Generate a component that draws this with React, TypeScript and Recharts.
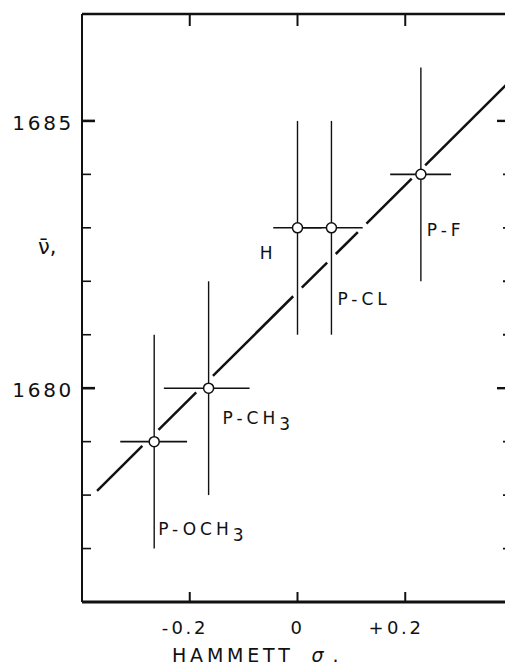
import React from 'react';
import { ComposedChart, Scatter, Line, XAxis, YAxis, ErrorBar } from 'recharts';

// ---- data ----
const substituents = ['P-OCH3', 'P-CH3', 'H', 'P-CL', 'P-F'];
const hammettSigma = [-0.266, -0.165, 0.0, 0.063, 0.229];
const wavenumber = [1679.0, 1680.0, 1683.0, 1683.0, 1684.0];
const wavenumberErr = [2, 2, 2, 2, 2];
const sigmaErrLow = [0.063, 0.083, 0.045, 0.058, 0.057];
const sigmaErrHigh = [0.061, 0.076, 0.045, 0.058, 0.056];

// fitted straight line  nu = intercept + slope * sigma
const fitSlope = 10.0;
const fitIntercept = 1681.8;
const fitSigmaRange = [-0.372, 0.39];

const xDomain = [-0.4, 0.4];
const yDomain = [1676, 1687];
const xTicks = [-0.2, 0, 0.2];
const xTickLabels = ['-0.2', '0', '+0.2'];
const yTicks = [1677, 1678, 1679, 1680, 1681, 1682, 1683, 1684, 1685];
const yLabeledTicks = [1680, 1685];

// ---- styles ----
const FONT = '"DejaVu Sans", sans-serif';
const INK = '#111';

const labelStyles: Record<string, { dx: number; dy: number; anchor: string }> = {
  'P-OCH3': { dx: 4, dy: 93, anchor: 'start' },
  'P-CH3': { dx: 14, dy: 36, anchor: 'start' },
  H: { dx: -21, dy: 31, anchor: 'end' },
  'P-CL': { dx: 6, dy: 77, anchor: 'start' },
  'P-F': { dx: 6, dy: 62, anchor: 'start' },
};

const points = substituents.map((name, i) => ({
  name,
  x: hammettSigma[i],
  y: wavenumber[i],
  ex: [sigmaErrLow[i], sigmaErrHigh[i]],
  ey: [wavenumberErr[i], wavenumberErr[i]],
}));

// fitted line drawn with small breaks where it crosses the error bars
const GAP = 0.008;
const fitAt = (s: number) => fitIntercept + fitSlope * s;
const crossings: number[] = [];
points.forEach((p) => {
  crossings.push(p.x);
  const sh = (p.y - fitIntercept) / fitSlope;
  if (sh >= p.x - p.ex[0] && sh <= p.x + p.ex[1]) crossings.push(sh);
});
crossings.sort((a, b) => a - b);
const gaps: number[][] = [];
crossings.forEach((c) => {
  const g = [c - GAP, c + GAP];
  const last = gaps[gaps.length - 1];
  if (last && g[0] <= last[1]) last[1] = Math.max(last[1], g[1]);
  else gaps.push(g);
});
const fitSegments: { x: number; y: number }[][] = [];
let start = fitSigmaRange[0];
gaps.forEach((g) => {
  if (g[0] > start) fitSegments.push([{ x: start, y: fitAt(start) }, { x: g[0], y: fitAt(g[0]) }]);
  start = Math.max(start, g[1]);
});
if (start < fitSigmaRange[1]) fitSegments.push([{ x: start, y: fitAt(start) }, { x: fitSigmaRange[1], y: fitAt(fitSigmaRange[1]) }]);

// ---- tick renderers ----
const BottomTick = (props: any) => {
  const { x, y, payload } = props;
  const i = xTicks.indexOf(payload.value);
  const label = i >= 0 ? xTickLabels[i] : '';
  const sign = /^[+-]/.test(label) ? label[0] : '';
  const num = sign ? label.slice(1) : label;
  const ts = { fontFamily: FONT, fontSize: 18, letterSpacing: 2.6, fill: INK };
  return (
    <g>
      <line x1={x} y1={y} x2={x} y2={y - 10} stroke={INK} strokeWidth={2} />
      <text x={x} y={y + 32} textAnchor="middle" {...ts}>{num}</text>
      {sign ? (
        <text x={x - 19} y={y + 32} textAnchor="end" {...ts}>{sign}</text>
      ) : null}
    </g>
  );
};

const TopTick = (props: any) => {
  const { x, y } = props;
  return <line x1={x} y1={y} x2={x} y2={y + 12} stroke={INK} strokeWidth={2} />;
};

const LeftTick = (props: any) => {
  const { x, y, payload } = props;
  const major = yLabeledTicks.includes(payload.value);
  return (
    <g>
      <line x1={x} y1={y} x2={x + (major ? 13 : 9)} y2={y} stroke={INK} strokeWidth={major ? 2.6 : 1.6} />
      {major ? (
        <text x={x - 8} y={y + 9} textAnchor="end" fontFamily={FONT} fontSize={20} letterSpacing={2.7} fill={INK}>
          {String(payload.value)}
        </text>
      ) : null}
    </g>
  );
};

const RightTick = (props: any) => {
  const { x, y, payload } = props;
  const major = yLabeledTicks.includes(payload.value);
  return <line x1={x} y1={y} x2={x - (major ? 16 : 10)} y2={y} stroke={INK} strokeWidth={major ? 2.4 : 1.8} />;
};

const NuLabel = (props: any) => {
  const vb = props.viewBox || { x: 0, y: 0, width: 0, height: 0 };
  return (
    <text x={vb.x + 30} y={vb.y + 240} fontFamily={FONT} fontSize={21} fill={INK}>
      {'\u03BD\u0304,'}
    </text>
  );
};

const SigmaLabel = (props: any) => {
  const vb = props.viewBox || { x: 0, y: 0, width: 0, height: 0 };
  return (
    <text x={vb.x + 90} y={vb.y + 60} fontFamily={FONT} fontSize={19} letterSpacing={3.8} fill={INK}>
      <tspan>HAMMETT</tspan>
      <tspan dx={18} fontStyle="italic">σ</tspan>
      <tspan dx={5}>.</tspan>
    </text>
  );
};

const PointShape = (props: any) => {
  const { cx, cy, payload } = props;
  if (cx == null || cy == null) return <g />;
  const name: string = payload.name;
  const st = labelStyles[name] || { dx: 6, dy: 20, anchor: 'start' };
  const m = name.match(/^(.*?)(\d+)$/);
  const main = m ? m[1] : name;
  const sub = m ? m[2] : '';
  return (
    <g>
      <circle cx={cx} cy={cy} r={5} fill="#fff" stroke={INK} strokeWidth={1.5} />
      <text
        x={cx + st.dx}
        y={cy + st.dy}
        textAnchor={st.anchor as any}
        fontFamily={FONT}
        fontSize={17}
        letterSpacing={4}
        fill={INK}
      >
        {main}
        {sub ? <tspan dy={6}>{sub}</tspan> : null}
      </text>
    </g>
  );
};

export default function App() {
  return (
    <div style={{ position: 'absolute', left: 8, top: 8, width: 497, height: 660, overflow: 'hidden', background: '#fff' }}>
      <ComposedChart width={520} height={660} margin={{ top: 5, right: 14, bottom: 0, left: 0 }}>
        <XAxis
          xAxisId="bottom"
          dataKey="x"
          type="number"
          domain={xDomain}
          ticks={xTicks}
          interval={0}
          allowDataOverflow
          height={66}
          tickSize={0}
          tickMargin={0}
          tickLine={false}
          axisLine={{ stroke: INK, strokeWidth: 3 }}
          tick={(p: any) => <BottomTick {...p} />}
          label={<SigmaLabel />}
        />
        <XAxis
          xAxisId="top"
          orientation="top"
          dataKey="x"
          type="number"
          domain={xDomain}
          ticks={xTicks}
          interval={0}
          allowDataOverflow
          height={1}
          tickSize={0}
          tickMargin={0}
          tickLine={false}
          axisLine={{ stroke: INK, strokeWidth: 2.4 }}
          tick={(p: any) => <TopTick {...p} />}
        />
        <YAxis
          yAxisId="left"
          dataKey="y"
          type="number"
          domain={yDomain}
          ticks={yTicks}
          interval={0}
          allowDataOverflow
          width={74}
          tickSize={0}
          tickMargin={0}
          tickLine={false}
          axisLine={{ stroke: INK, strokeWidth: 2 }}
          tick={(p: any) => <LeftTick {...p} />}
          label={<NuLabel />}
        />
        <YAxis
          yAxisId="right"
          orientation="right"
          dataKey="y"
          type="number"
          domain={yDomain}
          ticks={yTicks}
          interval={0}
          allowDataOverflow
          width={1}
          tickSize={0}
          tickMargin={0}
          tickLine={false}
          axisLine={{ stroke: INK, strokeWidth: 2 }}
          tick={(p: any) => <RightTick {...p} />}
        />
        {fitSegments.map((seg, i) => (
          <Line
            key={'fit' + i}
            data={seg}
            dataKey="y"
            xAxisId="bottom"
            yAxisId="left"
            type="linear"
            stroke={INK}
            strokeWidth={2.5}
            dot={false}
            activeDot={false}
            isAnimationActive={false}
          />
        ))}
        <Scatter
          data={points}
          dataKey="y"
          xAxisId="bottom"
          yAxisId="left"
          isAnimationActive={false}
          shape={(p: any) => <PointShape {...p} />}
        >
          <ErrorBar dataKey="ey" direction="y" width={0} stroke={INK} strokeWidth={1.4} isAnimationActive={false} />
          <ErrorBar dataKey="ex" direction="x" width={0} stroke={INK} strokeWidth={1.6} isAnimationActive={false} />
        </Scatter>
      </ComposedChart>
    </div>
  );
}
